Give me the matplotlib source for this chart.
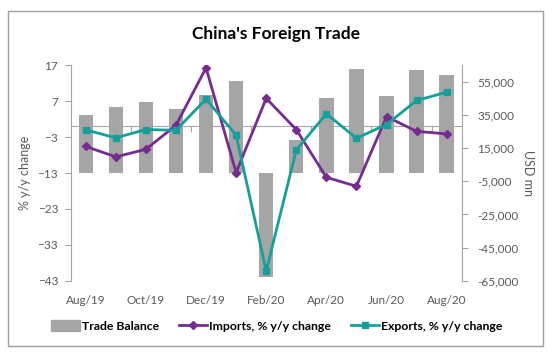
import matplotlib
matplotlib.use("Agg")
import matplotlib.pyplot as plt
from matplotlib.patches import Rectangle
import numpy as np

months = ["Aug/19", "Sep/19", "Oct/19", "Nov/19", "Dec/19", "Jan/20", "Feb/20",
          "Mar/20", "Apr/20", "May/20", "Jun/20", "Jul/20", "Aug/20"]
trade_balance = [34800, 39700, 42800, 38700, 46800, 55500, -62600,
                 19900, 45300, 62900, 46400, 62300, 58900]
imports_yoy = [-5.6, -8.5, -6.4, 0.3, 16.3, -12.9, 7.8,
               -0.9, -14.2, -16.7, 2.7, -1.4, -2.1]
exports_yoy = [-1.0, -3.2, -0.9, -1.1, 7.6, -2.5, -40.3,
               -6.6, 3.5, -3.3, 0.5, 7.2, 9.5]
left_ticks = [17, 7, -3, -13, -23, -33, -43]
right_ticks = [55000, 35000, 15000, -5000, -25000, -45000, -65000]

FONT = "Lato"
GRAY_TXT = "#595959"
AX_GRAY = "#A6A6A6"
BAR_C = "#A5A5A5"
IMP_C = "#772B90"
EXP_C = "#13A09B"

plt.rcParams['font.family'] = [FONT, 'DejaVu Sans']

W, H = 555, 357
fig = plt.figure(figsize=(W / 100, H / 100), dpi=100)

x0, x1, ytop, ybot = 70.7, 461.7, 65.3, 280.7
ax = fig.add_axes([x0 / W, 1 - ybot / H, (x1 - x0) / W, (ybot - ytop) / H])
ax2 = ax.twinx()

x = np.arange(len(months))

ax2.bar(x, trade_balance, width=0.48, color=BAR_C, zorder=1)
ax2.set_ylim(-65000, 65000)
ax2.set_yticks(right_ticks)
ax2.set_yticklabels([f"{v:,}" for v in right_ticks])
ax2.tick_params(axis='y', direction='out', length=4, color=AX_GRAY,
                labelcolor=GRAY_TXT, labelsize=8.5, pad=7)
for s in ['top', 'bottom', 'left']:
    ax2.spines[s].set_visible(False)
ax2.spines['right'].set_color(AX_GRAY)
ax2.set_ylabel("USD mn", color=GRAY_TXT, fontsize=9, rotation=-90, labelpad=11)

ax.set_zorder(ax2.get_zorder() + 1)
ax.patch.set_visible(False)

ax.plot(x, imports_yoy, color=IMP_C, lw=2.0, marker='D', markersize=4.5,
        zorder=3)
ax.plot(x, exports_yoy, color=EXP_C, lw=2.0, marker='s', markersize=5,
        zorder=4)
ax.set_ylim(-43, 17)
ax.set_xlim(-0.5, len(months) - 0.5)
ax.set_yticks(left_ticks)
ax.tick_params(axis='y', direction='out', length=4, color=AX_GRAY,
               labelcolor=GRAY_TXT, labelsize=8.5, pad=5)
ax.set_xticks(x[::2])
ax.set_xticklabels(months[::2])
ax.tick_params(axis='x', length=0, labelcolor=GRAY_TXT, labelsize=8.5, pad=10)
for s in ['top', 'bottom', 'right']:
    ax.spines[s].set_visible(False)
ax.spines['left'].set_color(AX_GRAY)
ax.set_ylabel("% y/y change", color=GRAY_TXT, fontsize=9, labelpad=5)

# zero-crossing category axis line with boundary ticks
zero_frac = (0 - (-43)) / (17 - (-43))
sec = ax.secondary_xaxis(zero_frac)
sec.set_xticks(x[::2][1:] - 0.5)
sec.set_alignment('bottom')
sec.tick_params(axis='x', direction='out', length=4, color=AX_GRAY,
                labelbottom=False, labeltop=False)
for s in ['top', 'bottom']:
    sec.spines[s].set_color(AX_GRAY)

fig.text(276 / W, 1 - 34 / H, "China's Foreign Trade", ha='center', va='center',
         fontsize=12.5, fontweight='bold', color='black')

handles = [Rectangle((0, 0), 1, 1, color=BAR_C),
           plt.Line2D([], [], color=IMP_C, lw=2, marker='D', markersize=4),
           plt.Line2D([], [], color=EXP_C, lw=2, marker='s', markersize=4.5)]
labels = ["Trade Balance", "Imports, % y/y change", "Exports, % y/y change"]
leg = fig.legend(handles, labels, loc='center', bbox_to_anchor=(277 / W, 1 - 326 / H),
                 ncol=3, frameon=False, handlelength=2.3, handleheight=0.9,
                 handletextpad=0.2, columnspacing=1.6,
                 prop={'family': FONT, 'weight': 'bold', 'size': 8.8})

fig.patches.append(Rectangle((8 / W, 1 - 346 / H), (543 - 8) / W, (346 - 11) / H,
                             transform=fig.transFigure, fill=False,
                             edgecolor='#A0A0A0', lw=1.0))

fig.savefig("out.png", dpi=100)
